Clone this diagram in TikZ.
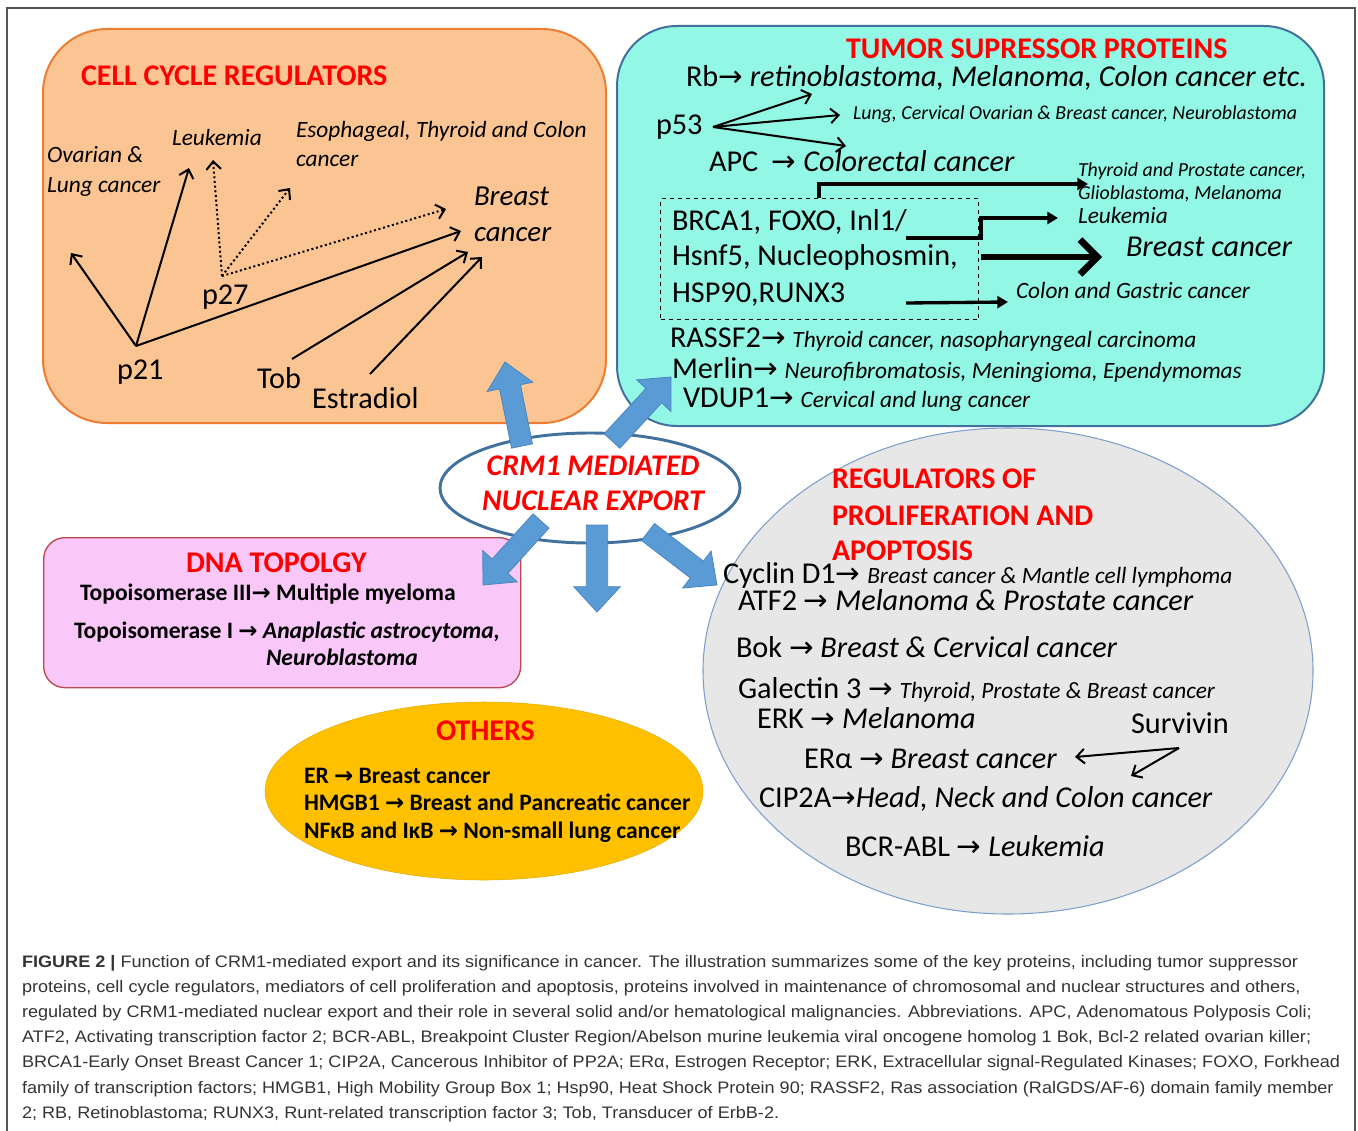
\documentclass[tikz,border=0pt]{standalone}
\usepackage{fontspec}
\setmainfont{Carlito}
\newfontfamily\capfont[FakeStretch=1.085]{Liberation Sans}
\newfontfamily\symfont[Scale=0.97]{DejaVu Sans}
\usetikzlibrary{arrows.meta,shapes.geometric,calc}
\definecolor{orfill}{HTML}{FAC593}
\definecolor{ordraw}{HTML}{ED7D31}
\definecolor{tlfill}{HTML}{93F7E6}
\definecolor{tldraw}{HTML}{41719C}
\definecolor{pkfill}{HTML}{F9C8F9}
\definecolor{pkdraw}{HTML}{B84A4F}
\definecolor{gdfill}{HTML}{FFC000}
\definecolor{gyfill}{HTML}{E7E7E7}
\definecolor{gydraw}{HTML}{7E9FCC}
\definecolor{arrowblue}{HTML}{5B9BD5}
\definecolor{arrowedge}{HTML}{4A86C0}
\definecolor{crmdraw}{HTML}{41719C}
\definecolor{capgray}{HTML}{333333}
\definecolor{framegray}{HTML}{555555}
\definecolor{titlered}{HTML}{FF0000}
\newcommand\fT{\fontsize{22.5}{26}\selectfont\bfseries}
\newcommand\fM{\fontsize{22.7}{27}\selectfont}
\newcommand\fMi{\fontsize{21.7}{26}\selectfont\itshape}
\newcommand\fS{\fontsize{17.5}{21}\selectfont}
\newcommand\fXS{\fontsize{14.9}{18}\selectfont}
\newcommand\fB{\fontsize{17.7}{21}\selectfont\bfseries}
\newcommand\ra{{\symfont →}}
\newcommand\blockarr[2]{%
  \path let \p1=(#1),\p2=(#2) in
    \pgfextra{\pgfmathsetmacro\baang{atan2(\y2-\y1,\x2-\x1)}%
      \pgfmathsetmacro\balen{veclen(\x2-\x1,\y2-\y1)}%
      \xdef\baang{\baang}\xdef\balen{\balen}\xdef\bax{\x1}\xdef\bay{\y1}};
  \filldraw[fill=arrowblue,draw=arrowedge,line width=0.6pt,shift={(\bax,\bay)},rotate=\baang]
    (0pt,-8pt) -- ({(\balen-19)*1pt},-8pt) -- ({(\balen-19)*1pt},-17.5pt) -- ({\balen*1pt},0pt)
    -- ({(\balen-19)*1pt},17.5pt) -- ({(\balen-19)*1pt},8pt) -- (0pt,8pt) -- cycle;}
\begin{document}
\begin{tikzpicture}[x=0.75pt,y=-0.75pt,
  txt/.style={anchor=base west,inner sep=0pt,outer sep=0pt},
  ttl/.style={txt,font=\fT,text=titlered},
  thinarr/.style={line width=1.5pt,-{Straight Barb[length=6pt,width=11pt]}},
  dotarr/.style={thinarr,dotted},
  elbarr/.style={line width=2.5pt,-{Triangle[length=8pt,width=9pt]}},
  bigarr/.style={line width=5pt,-{Straight Barb[length=13pt,width=26pt]}},
  capline/.style={txt,font=\capfont\fontsize{12.5}{15}\selectfont,text=capgray}]
\useasboundingbox (0,0) rectangle (1358,1130);
\draw[framegray,line width=1.2pt] (7,8) rectangle (1355,1140);

% ---------- boxes ----------
\node (cellbox) [draw=ordraw,fill=orfill,line width=1.5pt,rounded corners=48pt,
  minimum width=422.25pt,minimum height=295.5pt,anchor=north west,inner sep=0pt] at (42,28) {};
\node (tumbox) [draw=tldraw,fill=tlfill,line width=1.5pt,rounded corners=45pt,
  minimum width=530.25pt,minimum height=300pt,anchor=north west,inner sep=0pt] at (616,25) {};
\node (dnabox) [draw=pkdraw,fill=pkfill,line width=1pt,rounded corners=16pt,
  minimum width=357.75pt,minimum height=112.5pt,anchor=north west,inner sep=0pt] at (43,537) {};
\node (regell) [ellipse,draw=gydraw,fill=gyfill,line width=0.8pt,
  minimum width=457.5pt,minimum height=364.5pt,inner sep=0pt] at (1008,671) {};
\node (othell) [ellipse,fill=gdfill,draw=gdfill!90!black,line width=0.4pt,
  minimum width=328.5pt,minimum height=133.5pt,inner sep=0pt] at (484,791) {};
\node (crm) [ellipse,draw=crmdraw,fill=white,line width=2.2pt,
  minimum width=225pt,minimum height=82.5pt,inner sep=0pt] at (590,488) {};
\node (dbox) [draw,dashed,line width=0.9pt,minimum width=238.5pt,minimum height=90.75pt,
  anchor=north west,inner sep=0pt] at (660,198) {};

% ---------- CRM1 ----------
\node (crm1) [anchor=base,inner sep=0pt,font=\fT\itshape,text=titlered] at (593,475) {CRM1 MEDIATED};
\node (crm2) [anchor=base,inner sep=0pt,font=\fT\itshape,text=titlered] at (593,510) {NUCLEAR EXPORT};

% ---------- block arrows ----------
\coordinate (ba1s) at (522,446); \coordinate (ba1e) at (505,362);
\coordinate (ba2s) at (612,441); \coordinate (ba2e) at (671,377);
\coordinate (ba3s) at (541,521); \coordinate (ba3e) at (483,585);
\coordinate (ba4s) at (597,525); \coordinate (ba4e) at (597,612);
\coordinate (ba5s) at (648,532); \coordinate (ba5e) at (717,585);
\blockarr{ba1s}{ba1e}
\blockarr{ba2s}{ba2e}
\blockarr{ba3s}{ba3e}
\blockarr{ba4s}{ba4e}
\blockarr{ba5s}{ba5e}

% ---------- cell cycle regulators ----------
\node (cctitle) [ttl] at (81,86) {CELL CYCLE REGULATORS};
\node (ovar1) [txt,font=\fS\itshape] at (47,163) {Ovarian \&};
\node (ovar2) [txt,font=\fS\itshape] at (47,193) {Lung cancer};
\node (leuk1) [txt,font=\fS\itshape] at (172,146) {Leukemia};
\node (esop1) [txt,font=\fS\itshape] at (296,138) {Esophageal, Thyroid and Colon};
\node (esop2) [txt,font=\fS\itshape] at (296,167) {cancer};
\node (brc1) [txt,font=\fMi] at (474,206) {Breast};
\node (brc2) [txt,font=\fMi] at (474,242) {cancer};
\node (p27) [txt,font=\fM] at (202,305) {p27};
\node (p21) [txt,font=\fM] at (117,379) {p21};
\node (tob) [txt,font=\fM] at (257,388) {Tob};
\node (estr) [txt,font=\fM] at (312,408) {Estradiol};
\coordinate (p21o) at (136,346);
\coordinate (p27o) at (222,276);
\coordinate (tobo) at (292,359);
\coordinate (estro) at (370,374);
\coordinate (c1) at (71,253);
\coordinate (c2) at (189,168);
\coordinate (c3) at (461,231);
\coordinate (c4) at (468,252);
\coordinate (c5) at (482,257);
\coordinate (d1) at (213,160);
\coordinate (d2) at (290,188);
\coordinate (d3) at (446,209);
\draw[thinarr] (p21o) -- (c1);
\draw[thinarr] (p21o) -- (c2);
\draw[thinarr] (p21o) -- (c3);
\draw[thinarr] (tobo) -- (c4);
\draw[thinarr] (estro) -- (c5);
\draw[dotarr] (p27o) -- (d1);
\draw[dotarr] (p27o) -- (d2);
\draw[dotarr] (p27o) -- (d3);

% ---------- tumor suppressor proteins ----------
\node (tstitle) [ttl] at (846,59) {TUMOR SUPRESSOR PROTEINS};
\node (rb) [txt,font=\fM] at (686,87) {Rb\ra{} \textit{retinoblastoma, Melanoma, Colon cancer etc.}};
\node (p53) [txt,font=\fM] at (656,135) {p53};
\node (lung) [txt,font=\fXS\itshape] at (853,120) {Lung, Cervical Ovarian \& Breast cancer, Neuroblastoma};
\coordinate (p53o) at (713,127);
\coordinate (e1) at (812,94);
\coordinate (e2) at (840,115);
\coordinate (e3) at (846,146);
\draw[thinarr] (p53o) -- (e1);
\draw[thinarr] (p53o) -- (e2);
\draw[thinarr] (p53o) -- (e3);
\node (apc) [txt,font=\fM] at (709,172) {APC \ \ra{} \textit{Colorectal cancer}};
\node (thy1) [txt,font=\fXS\itshape] at (1078,177) {Thyroid and Prostate cancer,};
\node (thy2) [txt,font=\fXS\itshape] at (1078,200) {Glioblastoma, Melanoma};
\node (leuk2) [txt,font=\fS\itshape] at (1078,224) {Leukemia};
\node (brc3) [txt,font=\fM\itshape] at (1126,257) {Breast cancer};
\node (colg) [txt,font=\fS\itshape] at (1016,298) {Colon and Gastric cancer};
\node (brca) [txt,font=\fM] at (672,231) {BRCA1, FOXO, Inl1/};
\node (hsnf) [txt,font=\fM] at (672,266) {Hsnf5, Nucleophosmin,};
\node (hsp) [txt,font=\fM] at (672,302) {HSP90,RUNX3};
\coordinate (f0) at (819,198);
\coordinate (f1) at (1088,184);
\coordinate (g0) at (906,238);
\coordinate (g1) at (981,218);
\coordinate (g2) at (1058,218);
\coordinate (h0) at (981,257);
\coordinate (h1) at (1102,257);
\coordinate (k0) at (906,303);
\coordinate (k1) at (1008,302);
\draw[elbarr] (f0) |- (f1);
\draw[elbarr] (g0) -| (g1) -- (g2);
\draw[bigarr] (h0) -- (h1);
\draw[elbarr] (k0) -- (k1);
\node (rass) [txt,font=\fM] at (670,347) {RASSF2\ra{} \fS\itshape Thyroid cancer, nasopharyngeal carcinoma};
\node (merl) [txt,font=\fM] at (672,378) {Merlin\ra{} \fS\itshape Neurofibromatosis, Meningioma, Ependymomas};
\node (vdup) [txt,font=\fM] at (683,407) {VDUP1\ra{} \fS\itshape Cervical and lung cancer};

% ---------- DNA topology ----------
\node (dnatitle) [ttl] at (186,572) {DNA TOPOLGY};
\node (topo3) [txt,font=\fB] at (80,600) {Topoisomerase III\ra{} Multiple myeloma};
\node (topo1) [txt,font=\fB] at (74,638) {Topoisomerase I \ra{} \textit{Anaplastic astrocytoma,}};
\node (topo1b) [txt,font=\fB\itshape] at (266,665) {Neuroblastoma};

% ---------- others ----------
\node (othtitle) [ttl] at (436,740) {OTHERS};
\node (oth1) [txt,font=\fB] at (304,783) {ER \ra{} Breast cancer};
\node (oth2) [txt,font=\fB] at (304,810) {HMGB1 \ra{} Breast and Pancreatic cancer};
\node (oth3) [txt,font=\fB] at (304,838) {NFκB and IκB \ra{} Non-small lung cancer};

% ---------- regulators ----------
\node (regt1) [ttl] at (832,488) {REGULATORS OF};
\node (regt2) [ttl] at (832,525) {PROLIFERATION AND};
\node (regt3) [ttl] at (832,560) {APOPTOSIS};
\node (cyc) [txt,font=\fM] at (723,583) {Cyclin D1\ra{} \fS\itshape Breast cancer \& Mantle cell lymphoma};
\node (atf) [txt,font=\fM] at (738,610) {ATF2 \ra{} \textit{Melanoma \& Prostate cancer}};
\node (bok) [txt,font=\fM] at (736,657) {Bok \ra{} \textit{Breast \& Cervical cancer}};
\node (gal) [txt,font=\fM] at (738,698) {Galectin 3 \ra{} \fS\itshape Thyroid, Prostate \& Breast cancer};
\node (erk) [txt,font=\fM] at (757,728) {ERK \ra{} \textit{Melanoma}};
\node (surv) [txt,font=\fM] at (1131,733) {Survivin};
\node (era) [txt,font=\fM] at (804,768) {ERα \ra{} \textit{Breast cancer}};
\node (cip) [txt,font=\fM] at (759,807) {CIP2A\ra{}\textit{Head, Neck and Colon cancer}};
\node (bcr) [txt,font=\fM] at (845,856) {BCR-ABL \ra{} \textit{Leukemia}};
\coordinate (so) at (1179,748);
\coordinate (s1) at (1075,757);
\coordinate (s2) at (1131,776);
\draw[thinarr] (so) -- (s1);
\draw[thinarr] (so) -- (s2);

% ---------- caption ----------
\node (cap1) [capline] at (22,967) {\textbf{FIGURE 2 |} Function of CRM1-mediated export and its significance in cancer. The illustration summarizes some of the key proteins, including tumor suppressor};
\node (cap2) [capline] at (22,992) {proteins, cell cycle regulators, mediators of cell proliferation and apoptosis, proteins involved in maintenance of chromosomal and nuclear structures and others,};
\node (cap3) [capline] at (22,1017) {regulated by CRM1-mediated nuclear export and their role in several solid and/or hematological malignancies. Abbreviations. APC, Adenomatous Polyposis Coli;};
\node (cap4) [capline] at (22,1042) {ATF2, Activating transcription factor 2; BCR-ABL, Breakpoint Cluster Region/Abelson murine leukemia viral oncogene homolog 1 Bok, Bcl-2 related ovarian killer;};
\node (cap5) [capline] at (22,1067) {BRCA1-Early Onset Breast Cancer 1; CIP2A, Cancerous Inhibitor of PP2A; ERα, Estrogen Receptor; ERK, Extracellular signal-Regulated Kinases; FOXO, Forkhead};
\node (cap6) [capline] at (22,1093) {family of transcription factors; HMGB1, High Mobility Group Box 1; Hsp90, Heat Shock Protein 90; RASSF2, Ras association (RalGDS/AF-6) domain family member};
\node (cap7) [capline] at (22,1118) {2; RB, Retinoblastoma; RUNX3, Runt-related transcription factor 3; Tob, Transducer of ErbB-2.};
\end{tikzpicture}
\end{document}
